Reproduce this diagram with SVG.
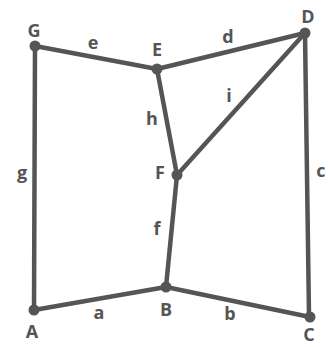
<svg xmlns="http://www.w3.org/2000/svg" width="334" height="347" viewBox="0 0 334 347">
<style>
.e{stroke:#555;stroke-width:4.5;stroke-linecap:round;fill:none}
.n{fill:#555}
text{font-family:"Open Sans","Liberation Sans",sans-serif;font-weight:700;font-size:18px;fill:#555;text-anchor:middle;dominant-baseline:central}
</style>
<rect width="334" height="347" fill="#fff"/>
<g id="edges">
<line class="e" x1="35" y1="46" x2="157" y2="69"/>
<line class="e" x1="157" y1="69" x2="305" y2="33"/>
<line class="e" x1="35" y1="46" x2="34" y2="310"/>
<line class="e" x1="157" y1="69" x2="177" y2="175"/>
<line class="e" x1="177" y1="175" x2="305" y2="33"/>
<line class="e" x1="177" y1="175" x2="166" y2="287"/>
<line class="e" x1="34" y1="310" x2="166" y2="287"/>
<line class="e" x1="166" y1="287" x2="310" y2="317"/>
<line class="e" x1="305" y1="33" x2="309" y2="316"/>
<text x="93" y="42">e</text>
<text x="228" y="36">d</text>
<text x="22" y="172">g</text>
<text x="152" y="118">h</text>
<text x="229" y="95">i</text>
<text x="157" y="228">f</text>
<text x="99" y="312">a</text>
<text x="230" y="313">b</text>
<text x="321" y="170">c</text>
</g>
<g id="G"><circle class="n" cx="35" cy="46" r="5.5"/><text x="34" y="30">G</text></g>
<g id="E"><circle class="n" cx="157" cy="69" r="5.5"/><text x="157" y="49">E</text></g>
<g id="D"><circle class="n" cx="305" cy="33" r="5.5"/><text x="308" y="16">D</text></g>
<g id="F"><circle class="n" cx="177" cy="175" r="5.5"/><text x="160" y="172">F</text></g>
<g id="A"><circle class="n" cx="34" cy="310" r="5.5"/><text x="32" y="331">A</text></g>
<g id="B"><circle class="n" cx="166" cy="287" r="5.5"/><text x="166" y="309">B</text></g>
<g id="C"><circle class="n" cx="310" cy="317" r="5.5"/><text x="309" y="334">C</text></g>
</svg>
